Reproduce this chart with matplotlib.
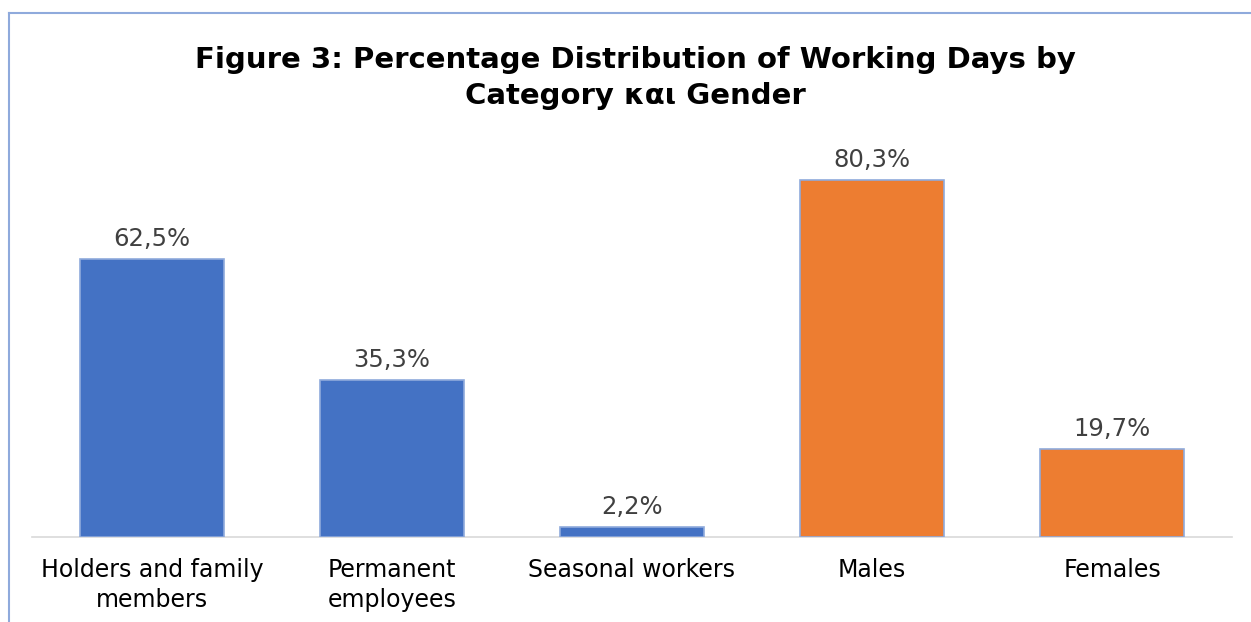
import matplotlib
matplotlib.use('Agg')
import matplotlib.pyplot as plt
from matplotlib.lines import Line2D

categories = ["Holders and family\nmembers", "Permanent\nemployees", "Seasonal workers", "Males", "Females"]
values = [62.5, 35.3, 2.2, 80.3, 19.7]
value_labels = ["62,5%", "35,3%", "2,2%", "80,3%", "19,7%"]
bar_colors = ["#4472C4", "#4472C4", "#4472C4", "#ED7D31", "#ED7D31"]

plt.rcParams['font.family'] = ['DejaVu Sans']

fig = plt.figure(figsize=(12.51, 6.22), dpi=100)
ax = fig.add_axes([32 / 1251, 85 / 622, 1200 / 1251, 400 / 622])

x = range(len(values))
bars = ax.bar(x, values, width=0.6, color=bar_colors, edgecolor="#8FAADC", linewidth=1.2, zorder=3)
for b, lab in zip(bars, value_labels):
    ax.annotate(lab, (b.get_x() + b.get_width() / 2, b.get_height()),
                xytext=(0, 6), textcoords="offset points",
                ha="center", va="bottom", fontsize=17.5, color="#404040")

ax.set_xlim(-0.5, 4.5)
ax.set_ylim(0, 400 / 4.446)
ax.set_xticks(list(x))
ax.set_xticklabels(categories, fontsize=17, color="#000000", linespacing=1.3)
ax.tick_params(axis="x", length=0, pad=15)
ax.set_yticks([])
for s in ["top", "right", "left"]:
    ax.spines[s].set_visible(False)
ax.spines["bottom"].set_color("#D9D9D9")
ax.spines["bottom"].set_linewidth(1.2)

fig.text(0.508, 1 - 78 / 622, "Figure 3: Percentage Distribution of Working Days by\nCategory \u03ba\u03b1\u03b9 Gender",
         ha="center", va="center", fontsize=21, fontweight="bold", linespacing=1.38)

# chart frame (left and top edges visible)
fig.add_artist(Line2D([9 / 1251, 9 / 1251], [0, 1 - 13 / 622], transform=fig.transFigure, color="#8FAADC", lw=1.5))
fig.add_artist(Line2D([9 / 1251, 1], [1 - 13 / 622, 1 - 13 / 622], transform=fig.transFigure, color="#8FAADC", lw=1.5))

fig.savefig("out.png", dpi=100)
